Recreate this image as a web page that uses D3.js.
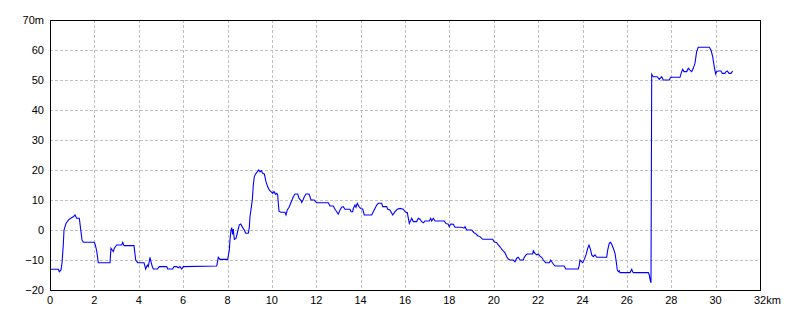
<!DOCTYPE html>
<html>
<head>
<meta charset="utf-8">
<script src="https://cdn.jsdelivr.net/npm/d3@7"></script>
<style>
  body { margin: 0; background: #fff; }
  .tick-label { font-family: "Liberation Sans", Arial, sans-serif; font-size: 11px; fill: #000; }
</style>
</head>
<body>
<div id="profile"></div>
<script>
// distance along route (km) and elevation (m)
const distKm = [0, 0.374, 0.419, 0.496, 0.541, 0.599, 0.631, 0.721, 0.825, 0.933, 1.050, 1.127, 1.203, 1.321, 1.442, 1.501, 1.997, 2.042, 2.105, 2.177,
  2.704, 2.749, 2.853, 2.898, 3.006, 3.232, 3.277, 3.335, 3.786, 3.862, 3.953, 4.237, 4.313, 4.385, 4.430, 4.507, 4.552, 4.611, 4.656, 4.836,
  4.926, 5.260, 5.305, 5.530, 5.589, 5.710, 5.782, 5.859, 5.936, 6.008, 7.513, 7.585, 7.662, 8.009, 8.081, 8.113, 8.158, 8.189, 8.234, 8.261,
  8.306, 8.383, 8.442, 8.532, 8.595, 8.685, 8.757, 8.820, 8.937, 8.982, 9.014, 9.118, 9.163, 9.208, 9.284, 9.343, 9.406, 9.465, 9.523, 9.586,
  9.659, 9.735, 9.812, 9.884, 9.960, 10.037, 10.096, 10.172, 10.217, 10.263, 10.289, 10.321, 10.398, 10.591, 10.637, 10.695, 10.772, 10.848, 10.920, 10.966,
  11.042, 11.164, 11.222, 11.313, 11.344, 11.416, 11.461, 11.538, 11.673, 11.718, 11.763, 11.912, 11.975, 12.020, 12.543, 12.620, 12.768, 12.845, 12.921, 12.994,
  13.070, 13.147, 13.219, 13.296, 13.521, 13.566, 13.643, 13.670, 13.746, 13.791, 13.850, 13.927, 14.003, 14.048, 14.093, 14.165, 14.499, 14.571, 14.648, 14.724,
  14.796, 14.950, 14.995, 15.175, 15.220, 15.324, 15.445, 15.549, 15.653, 15.775, 15.923, 16.000, 16.076, 16.103, 16.194, 16.302, 16.374, 16.527, 16.599, 16.676,
  16.752, 16.825, 16.901, 17.095, 17.158, 17.203, 17.275, 17.352, 17.771, 17.834, 17.951, 17.996, 18.060, 18.177, 18.253, 18.555, 18.659, 18.704, 18.780, 19.006,
  19.110, 19.200, 19.276, 19.380, 19.502, 19.953, 20.011, 20.133, 20.205, 20.282, 20.358, 20.430, 20.507, 20.583, 20.655, 20.732, 20.881, 20.958, 21.034, 21.106,
  21.183, 21.332, 21.377, 21.453, 21.512, 21.755, 21.782, 21.859, 21.935, 22.007, 22.084, 22.161, 22.233, 22.341, 22.503, 22.567, 22.657, 22.760, 23.179, 23.243,
  23.810, 23.855, 23.887, 23.964, 24.009, 24.081, 24.158, 24.234, 24.293, 24.369, 24.414, 24.486, 24.563, 24.639, 25.090, 25.135, 25.208, 25.270, 25.329, 25.388,
  25.465, 25.510, 25.568, 25.613, 25.658, 25.690, 26.141, 26.217, 26.262, 26.289, 26.965, 27.010, 27.042, 27.087, 27.119, 27.191, 27.371, 27.461, 27.569, 27.641,
  27.912, 27.974, 28.394, 28.470, 28.515, 28.574, 28.696, 28.768, 28.845, 28.921, 28.994, 29.070, 29.143, 29.215, 29.714, 29.791, 29.867, 29.940, 30.003, 30.048,
  30.120, 30.242, 30.301, 30.422, 30.468, 30.526, 30.603, 30.693, 30.769];

const elevM = [-13.1, -13.1, -13.9, -13.3, -11, -5, 0, 2.2, 3.3, 3.9, 4.4, 5, 3.9, 3.9, -3.3, -4.1, -4.1, -5, -7, -10.9,
  -10.9, -6.1, -7.2, -6.1, -5, -5, -4.1, -5.2, -5.2, -10, -10.9, -10.9, -13, -11.7, -12.2, -9.1, -10.6, -12.2, -13, -13,
  -12.2, -12.2, -13, -13, -12.2, -12.2, -12.6, -12.2, -13, -12.2, -12, -9.1, -9.8, -9.8, -6.7, -3.3, 0, 0.8, -1.5, 0.3,
  -3.1, -2.8, -1, 1.7, 2, 0.8, 0, -1.1, -1.1, 0.8, 4.4, 10, 15, 17.8, 18.9, 19.4, 20, 19.4, 19.8, 18.9,
  18.7, 16.1, 14.4, 13.3, 12.8, 12.2, 12.8, 11.9, 12.2, 11.7, 8.9, 6.3, 5.9, 5.9, 5, 6.7, 7.6, 8.9, 10.2, 11.1,
  12, 12, 10.6, 9.8, 9.2, 10.2, 11.1, 12, 12, 11.1, 10, 10, 9.4, 9.1, 9.1, 8, 8, 6.9, 6.1, 5.3,
  6.7, 7.6, 7.8, 6.9, 6.9, 6.1, 6.1, 7.2, 8.3, 7.6, 8.9, 7.8, 7.2, 7, 7, 5, 5, 6.1, 7.2, 8.3,
  8.9, 8.9, 7.8, 7.8, 6.9, 6.7, 5, 6.1, 6.9, 7.2, 6.9, 6.1, 5.8, 5.8, 2.2, 3.9, 2.8, 2.8, 3.9, 3.6,
  2.8, 2.4, 3, 3, 3.9, 3, 3.9, 3, 3, 2.2, 1.9, 1.1, 2, 1.9, 0.9, 0.9, 0.6, 1.1, 0, 0,
  -0.9, -1.3, -1.9, -2.2, -3.1, -3.1, -3.9, -4.2, -5, -5.6, -6.4, -7, -7.6, -8.9, -9.7, -10, -10, -10.6, -9.4, -9.1,
  -10, -10, -9.1, -8.3, -8, -8, -6.9, -7.8, -8.3, -8, -8.7, -9.1, -10, -10.9, -10.9, -10, -11.1, -12, -12, -13,
  -13, -11.7, -10, -10.6, -10.9, -9.8, -8.3, -6.1, -5, -6.7, -8.3, -8.9, -8.3, -9.1, -9.1, -6.7, -4.4, -4.1, -5, -6.1,
  -7.8, -10, -13.3, -13.9, -13.6, -14.2, -14.2, -13.1, -13.9, -14.2, -14.2, -15, -16.4, -17.6, 51.9, 51.1, 51.1, 50.2, 51.1, 50,
  50, 50.9, 50.9, 52.8, 53.6, 52.8, 52.8, 53.9, 53.3, 52.8, 53.9, 55.6, 59.4, 60.9, 60.9, 60, 57.8, 54.4, 52, 52.8,
  53, 53, 52.2, 52.2, 52.8, 53, 52.2, 52.2, 53];

const xTicks = d3.range(0, 33, 2);
const yTicks = d3.range(-20, 71, 10);
const xUnit = "km";
const yUnit = "m";

let margin = {top: 20, right: 40, bottom: 30, left: 50},
    width = 800 - margin.left - margin.right,
    height = 320 - margin.top - margin.bottom;

let x = d3.scaleLinear().domain([0, 32]).range([0, width]);
let y = d3.scaleLinear().domain([-20, 70]).range([height, 0]);

let svg = d3.select("#profile").append("svg")
    .attr("width", 800)
    .attr("height", 320)
  .append("g")
    .attr("transform", "translate(" + margin.left + "," + margin.top + ")");

// dashed grid
svg.append("g").selectAll("line").data(xTicks.slice(1, -1)).join("line")
    .attr("x1", d => Math.round(x(d)) + 0.5).attr("x2", d => Math.round(x(d)) + 0.5)
    .attr("y1", 0).attr("y2", height)
    .attr("stroke", "#c0c0c0").attr("stroke-dasharray", "3,2");

svg.append("g").selectAll("line").data(yTicks.slice(1, -1)).join("line")
    .attr("y1", d => Math.round(y(d)) + 0.5).attr("y2", d => Math.round(y(d)) + 0.5)
    .attr("x1", 0).attr("x2", width)
    .attr("stroke", "#c0c0c0").attr("stroke-dasharray", "3,2");

// profile line
let line = d3.line()
    .x((d, i) => x(distKm[i]))
    .y(d => y(d));

svg.append("path")
    .datum(elevM)
    .attr("d", line)
    .attr("fill", "none")
    .attr("stroke", "#0000ff")
    .attr("stroke-width", 1.1)
    .attr("stroke-linejoin", "miter");

// frame
svg.append("rect")
    .attr("x", 0.5).attr("y", 0.5)
    .attr("width", width).attr("height", height)
    .attr("fill", "none").attr("stroke", "#000");

// y labels
svg.append("g").selectAll("text").data(yTicks).join("text")
    .attr("class", "tick-label")
    .attr("x", -6)
    .attr("y", d => y(d))
    .attr("dy", "0.36em")
    .attr("text-anchor", "end")
    .text(d => d3.format("d")(d) + (d === 70 ? yUnit : ""));

// x labels: number centred on the tick, unit hanging after the last one
let xl = svg.append("g").selectAll("text").data(xTicks).join("text")
    .attr("class", "tick-label")
    .attr("x", d => x(d))
    .attr("y", height + 14)
    .attr("text-anchor", "middle")
    .text(d => d);

let lastNum = xl.filter(d => d === 32).node();
let half = lastNum.getComputedTextLength() / 2;
svg.append("text")
    .attr("class", "tick-label")
    .attr("x", x(32) + half)
    .attr("y", height + 14)
    .text(xUnit);
</script>
</body>
</html>
